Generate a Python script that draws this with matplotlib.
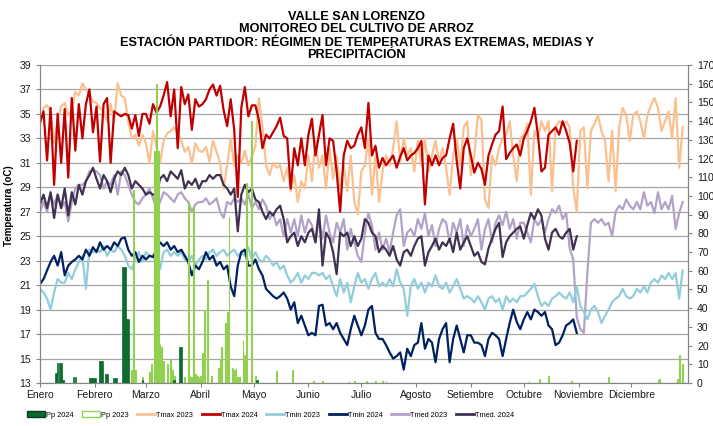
import numpy as np
import matplotlib
matplotlib.use("Agg")
from matplotlib import pyplot as plt
from matplotlib.patches import Patch
from matplotlib.lines import Line2D

plt.rcParams['font.family'] = ['Liberation Sans', 'DejaVu Sans']

# daily series sampled every 2 days (day 0 = 1 Jan), one row per month
tmax_2023 = [34.1, 35.5, 35.7, 35.2, 32.6, 34.6, 35.6, 35.9, 34.9, 35.3, 36.8, 36.5, 37.5, 37.0, 36.6, 36.0,
             35.9, 35.5, 35.2, 34.4, 35.8, 34.4, 37.5, 36.5, 36.3, 34.4, 33.0, 33.3, 32.4, 33.3,
             32.6, 31.0, 33.6, 32.3, 31.0, 32.8, 33.4, 33.6, 33.9, 33.5, 32.8, 31.9, 32.3, 31.0, 32.6, 32.0,
             31.9, 32.3, 31.1, 32.8, 31.9, 31.0, 28.9, 30.8, 33.0, 30.8, 31.6, 31.0, 32.0, 30.8, 31.5,
             32.4, 36.3, 34.0, 30.8, 30.0, 31.0, 30.6, 30.8, 29.5, 30.6, 28.7, 30.0, 27.8, 29.5, 28.9,
             31.6, 29.5, 32.8, 30.6, 31.6, 28.9, 32.2, 29.7, 31.6, 28.9, 30.8, 28.7, 31.6, 27.8, 26.8,
             30.3, 30.8, 33.0, 28.4, 31.6, 27.8, 30.3, 31.6, 30.8, 32.2, 34.4, 31.1, 33.0, 31.6, 32.2, 30.3,
             32.8, 30.8, 33.0, 30.3, 31.6, 32.8, 31.1, 32.2, 30.6, 28.4, 31.6, 33.0, 30.8, 33.9, 34.4,
             30.0, 31.6, 34.9, 34.5, 28.0, 27.3, 31.6, 30.8, 32.2, 33.0, 33.3, 34.4, 31.6, 29.5, 33.0,
             33.3, 34.2, 28.4, 33.6, 33.0, 34.4, 33.6, 34.4, 28.7, 33.9, 34.4, 34.2, 34.4, 33.9, 28.9, 27.0,
             33.6, 33.9, 28.9, 33.6, 34.2, 34.9, 33.6, 32.8, 29.5, 33.6, 28.7, 33.9, 35.5, 34.9, 32.8,
             34.9, 35.2, 34.4, 33.0, 34.9, 35.7, 36.3, 35.5, 33.6, 34.4, 35.2, 33.0, 36.3, 30.6, 33.9]

tmax_2024 = [34.3, 35.2, 31.2, 35.5, 29.2, 35.0, 31.0, 35.4, 29.8, 36.3, 32.0, 35.8, 33.0, 35.8, 37.0, 33.5,
             35.6, 31.1, 35.8, 36.3, 31.0, 35.2, 35.0, 34.8, 35.0, 34.9, 33.8, 34.9, 33.2, 35.0,
             35.0, 34.2, 35.8, 35.1, 35.6, 36.5, 37.6, 34.8, 37.0, 32.2, 37.2, 35.8, 36.6, 33.7, 36.2, 35.6,
             35.8, 36.2, 37.0, 37.4, 36.5, 37.3, 35.3, 34.0, 36.2, 33.7, 28.2, 35.5, 37.2, 34.8, 35.7,
             35.7, 34.5, 32.2, 33.3, 33.0, 33.5, 34.0, 34.7, 33.2, 33.0, 28.9, 32.2, 30.8, 33.0, 30.8,
             33.3, 34.6, 31.6, 33.3, 34.9, 30.8, 33.0, 32.8, 30.3, 27.0, 31.6, 32.8, 32.2, 32.4, 33.3,
             33.9, 32.2, 35.9, 31.6, 32.4, 30.6, 31.4, 30.8, 31.2, 31.6, 30.6, 31.5, 32.2, 31.2, 31.6, 31.8,
             32.2, 32.8, 27.6, 31.6, 30.8, 31.6, 30.8, 31.4, 31.6, 33.0, 34.2, 31.2, 28.9, 32.2, 33.0,
             31.6, 30.2, 31.0, 30.5, 29.2, 31.6, 32.5, 33.3, 33.6, 35.6, 31.3, 31.8, 32.2, 32.5, 31.6,
             33.0, 33.6, 34.4, 35.5, 33.3, 30.3, 30.6, 33.3, 33.6, 33.9, 33.3, 34.4, 33.6, 32.6, 30.3, 32.8]

tmin_2023 = [20.7, 20.4, 19.9, 19.0, 20.4, 21.5, 21.2, 21.2, 22.0, 21.5, 22.3, 22.9, 23.4, 20.7, 23.9, 23.7,
             23.9, 23.7, 24.2, 23.4, 23.9, 23.7, 24.2, 23.9, 23.4, 22.6, 22.3, 23.1, 23.7, 22.9,
             23.7, 23.4, 23.4, 22.6, 22.3, 23.7, 23.9, 23.4, 23.7, 23.4, 23.7, 23.1, 22.9, 23.4, 22.6, 23.1,
             23.4, 23.1, 23.7, 23.9, 23.4, 23.7, 23.9, 23.4, 23.7, 23.9, 23.4, 23.7, 23.4, 24.1, 23.1,
             23.7, 23.1, 22.9, 23.4, 23.1, 22.6, 22.9, 22.3, 22.6, 21.8, 21.2, 21.5, 22.0, 21.2, 21.8,
             21.5, 22.0, 22.0, 21.8, 22.0, 21.5, 21.8, 20.9, 20.1, 21.5, 20.4, 21.2, 19.6, 20.9, 22.0,
             21.2, 21.5, 20.7, 21.5, 22.0, 20.9, 21.2, 20.9, 21.5, 20.9, 22.3, 21.2, 20.7, 18.5, 20.9, 21.5,
             20.7, 21.2, 20.4, 21.2, 20.9, 21.8, 20.9, 20.7, 21.2, 20.4, 20.9, 21.5, 20.7, 19.9, 20.1,
             19.9, 19.6, 20.1, 19.6, 19.0, 19.9, 20.1, 19.6, 19.9, 19.0, 20.1, 19.6, 19.9, 19.6, 20.1,
             20.1, 20.4, 20.7, 21.1, 20.1, 19.3, 19.6, 19.3, 19.9, 20.1, 20.4, 20.1, 19.9, 20.4, 19.6, 20.9,
             19.3, 18.8, 18.2, 19.0, 19.3, 18.8, 17.9, 18.5, 19.0, 19.6, 19.9, 20.1, 20.7, 20.1, 19.9,
             20.1, 20.7, 20.4, 20.9, 20.4, 21.2, 21.5, 21.2, 21.8, 21.5, 22.0, 21.5, 22.0, 19.9, 22.2]

tmin_2024 = [21.1, 21.5, 22.2, 22.9, 23.4, 22.6, 23.7, 21.8, 22.6, 22.9, 23.1, 23.4, 23.1, 23.9, 23.4, 24.1,
             23.7, 24.5, 23.9, 24.2, 23.9, 24.5, 24.2, 24.8, 24.9, 23.9, 23.4, 23.7, 22.9, 23.4,
             23.1, 23.4, 23.3, 23.9, 24.5, 24.2, 24.5, 23.9, 24.2, 23.7, 23.9, 23.4, 22.9, 21.8, 22.6, 22.3,
             22.9, 23.7, 23.1, 23.4, 22.6, 22.9, 22.3, 22.6, 20.9, 20.1, 22.6, 23.7, 23.9, 22.6, 22.6,
             23.1, 22.3, 21.8, 20.7, 20.4, 20.1, 19.9, 20.1, 20.4, 19.9, 19.0, 19.6, 17.9, 18.5, 17.7,
             16.9, 17.1, 16.9, 19.3, 19.4, 17.7, 17.9, 17.4, 17.9, 17.1, 16.6, 16.1, 17.4, 18.5, 17.7,
             16.9, 17.7, 19.0, 19.3, 17.1, 16.6, 16.6, 16.1, 15.5, 15.0, 15.2, 15.5, 14.1, 15.8, 15.2, 16.1,
             16.3, 17.9, 15.8, 16.6, 16.3, 14.7, 16.6, 17.4, 17.9, 14.7, 16.6, 17.7, 16.6, 15.5, 16.9,
             16.9, 16.3, 16.3, 16.1, 15.2, 16.6, 17.1, 16.9, 16.6, 15.2, 16.6, 17.9, 19.0, 18.0, 17.4,
             18.2, 18.8, 18.2, 19.0, 18.8, 18.5, 18.8, 17.7, 17.4, 16.1, 16.3, 16.9, 17.7, 17.9, 18.2, 17.1]

tmed_2023 = [27.0, 27.8, 27.0, 28.4, 27.6, 28.4, 27.3, 27.8, 26.2, 27.8, 28.9, 29.2, 29.2, 29.5, 30.3, 30.4,
             30.3, 30.0, 28.9, 29.5, 29.2, 30.0, 28.4, 30.3, 30.0, 29.2, 28.4, 27.8, 27.6, 28.1,
             28.4, 28.9, 28.1, 27.3, 27.8, 28.6, 28.4, 28.1, 27.8, 28.4, 28.6, 28.1, 27.8, 27.0, 27.6, 27.8,
             27.8, 28.1, 27.6, 27.8, 28.1, 27.0, 26.5, 27.8, 27.6, 28.1, 27.8, 28.1, 27.6, 28.4, 27.3,
             27.8, 27.2, 28.0, 27.5, 26.4, 26.9, 25.9, 26.4, 25.0, 26.4, 25.3, 26.4, 25.0, 26.7, 25.3,
             26.4, 25.9, 24.5, 26.4, 24.8, 26.7, 25.3, 24.5, 26.1, 25.3, 26.4, 23.9, 25.6, 24.5, 23.4,
             22.9, 25.3, 26.9, 25.9, 23.9, 25.3, 23.9, 24.8, 23.7, 25.3, 26.7, 27.2, 24.2, 25.3, 25.6, 25.0,
             26.4, 25.6, 26.9, 25.0, 25.9, 24.2, 25.6, 26.4, 26.1, 24.5, 26.1, 25.3, 26.4, 24.2, 25.9,
             25.0, 25.6, 26.4, 23.9, 25.6, 26.4, 24.5, 26.1, 26.7, 25.9, 27.0, 25.6, 26.4, 24.8, 26.1,
             26.1, 25.3, 24.5, 26.4, 25.9, 26.4, 25.3, 26.4, 27.2, 26.9, 27.5, 26.4, 26.9, 24.0, 23.1, 18.4,
             17.4, 17.1, 22.0, 26.1, 26.4, 26.1, 26.4, 25.9, 26.1, 25.0, 27.0, 27.5, 27.2, 28.0, 27.5,
             27.2, 27.8, 27.2, 28.6, 27.5, 27.8, 26.9, 28.6, 27.2, 27.8, 27.2, 28.3, 25.6, 26.9, 27.8]

tmed_2024 = [27.6, 28.4, 27.3, 28.6, 26.5, 28.4, 27.3, 28.9, 26.7, 28.6, 27.6, 29.2, 28.4, 29.5, 30.0, 30.6,
             29.7, 28.9, 30.0, 29.5, 28.6, 29.7, 30.3, 30.0, 30.6, 30.0, 28.9, 29.5, 29.2, 28.9,
             28.4, 28.6, 28.4, 28.4, 29.7, 30.0, 29.5, 30.3, 30.0, 29.7, 30.4, 28.9, 29.5, 29.2, 29.7, 28.9,
             29.5, 29.5, 30.0, 29.7, 30.0, 30.0, 29.2, 28.9, 28.4, 28.9, 25.4, 28.4, 29.2, 28.6, 28.9,
             28.0, 27.8, 27.0, 26.4, 27.0, 26.7, 27.2, 27.5, 26.4, 24.5, 25.0, 25.3, 24.2, 25.0, 24.5,
             25.3, 25.6, 24.5, 27.2, 22.6, 25.3, 24.8, 23.7, 21.9, 25.3, 25.0, 25.3, 24.2, 25.0, 24.2,
             24.8, 26.4, 26.1, 25.3, 25.0, 23.7, 24.2, 23.9, 23.4, 24.2, 23.1, 22.6, 23.7, 23.9, 23.4, 24.2,
             24.8, 25.0, 22.6, 23.7, 24.2, 24.8, 23.9, 24.5, 24.2, 24.8, 23.7, 25.3, 23.9, 24.5, 25.0,
             24.2, 23.4, 23.7, 22.9, 22.7, 24.0, 24.8, 25.6, 26.1, 23.3, 24.5, 25.0, 25.3, 25.6, 25.8,
             24.8, 25.9, 26.9, 26.4, 27.2, 26.7, 24.8, 23.9, 25.3, 25.6, 25.0, 24.8, 25.3, 25.6, 23.9, 25.0]

# precipitation (mm): day of year and amount
pp24_day = [9, 10, 11, 12, 13, 19, 20, 28, 29, 30, 31, 34, 35, 37, 38, 42, 43, 47, 48, 49, 50, 58, 76, 79, 80, 123]
pp24_mm = [5.3, 10.7, 10.7, 10.7, 1.5, 3.2, 3.2, 2.5, 2.5, 2.5, 2.5, 11.8, 11.8, 4.8, 4.8, 2.7, 2.7,
           62, 62, 34, 34, 1.5, 1.5, 19, 19, 1.5]

pp23_day = [52, 53, 54, 58, 62, 63, 65, 66, 67, 68, 69, 70, 72, 74, 75, 76, 82, 84, 85, 86, 87, 88, 89, 90, 91,
            92, 93, 95, 97, 101, 102, 103, 105, 106, 107, 109, 110, 111, 112, 113, 115, 116, 117, 120, 122,
            134, 143, 155, 160, 175, 178, 185, 190, 194, 196, 277, 283, 288, 301, 322, 350, 351, 361, 362, 364]
pp23_mm = [7, 103, 7, 3, 6, 10, 124, 160, 124, 21, 19, 12, 10, 13, 7, 4, 3, 96, 4, 3, 94, 5, 4, 3, 4,
           16, 39, 55, 4, 8, 13, 19, 32, 38, 89, 8, 7, 8, 3, 3, 23, 15, 107, 140, 4,
           6.5, 7, 1, 1, 1, 1, 1, 1, 1, 1, 1, 2, 3.5, 1, 3, 2, 2, 2, 15, 10]

meses = ['Enero', 'Febrero', 'Marzo', 'Abril', 'Mayo', 'Junio', 'Julio', 'Agosto',
         'Setiembre', 'Octubre', 'Noviembre', 'Diciembre']
inicio_mes = [0, 31, 60, 91, 121, 152, 182, 213, 244, 274, 305, 335]

dias23 = np.arange(len(tmax_2023)) * 2
dias24 = np.arange(len(tmax_2024)) * 2

fig = plt.figure(figsize=(7.13, 4.26), dpi=100)
ax = fig.add_axes([40 / 713, 43 / 426, 648 / 713, 318 / 426])
ax2 = ax.twinx()

# temperature lines (2023 first, 2024 on top)
lw = 1.6
ax.plot(dias23, tmax_2023, color='#FAC090', lw=lw, zorder=3)
ax.plot(dias23, tmed_2023, color='#B3A2C7', lw=lw, zorder=3)
ax.plot(dias23, tmin_2023, color='#92CDDC', lw=lw, zorder=3)
ax.plot(dias24, tmax_2024, color='#C00000', lw=lw, zorder=4)
ax.plot(dias24, tmed_2024, color='#403151', lw=lw, zorder=4)
ax.plot(dias24, tmin_2024, color='#002060', lw=lw, zorder=4)

# precipitation bars on right axis
ax2.bar(pp23_day, pp23_mm, width=0.45, facecolor='none', edgecolor='#92D050', linewidth=0.8)
ax2.bar(pp24_day, pp24_mm, width=0.9, facecolor='#0B6B2E', edgecolor='#0B6B2E', linewidth=0.5)

ax.set_xlim(0, 367)
ax.set_ylim(13, 39)
ax.set_yticks(range(13, 40, 2))
ax2.set_ylim(0, 170)
ax2.set_yticks(range(0, 171, 10))

ax.yaxis.grid(True, color='#A6A6A6', lw=0.9)
ax.set_axisbelow(True)

ax.set_xticks(inicio_mes)
ax.set_xticklabels(meses)

for a in (ax, ax2):
    for s in a.spines.values():
        s.set_color('#868686')
    a.spines['top'].set_visible(False)
ax.tick_params(axis='both', labelsize=7.5, colors='#868686', labelcolor='#1a1a1a', length=3)
ax.tick_params(axis='x', pad=2)
ax2.tick_params(axis='y', labelsize=7.5, colors='#868686', labelcolor='#1a1a1a', length=3)

fig.text(9 / 713, 1 - 206 / 426, 'Temperatura (oC)', rotation=90, fontsize=7, fontweight='bold',
         ha='center', va='center')

fig.text(0.5, 1 - 36 / 426,
         'VALLE SAN LORENZO\nMONITOREO DEL CULTIVO DE ARROZ\n'
         'ESTACIÓN PARTIDOR: RÉGIMEN DE TEMPERATURAS EXTREMAS, MEDIAS Y\nPRECIPITACIÓN',
         ha='center', va='center', fontsize=9.2, fontweight='bold', linespacing=1.02)

handles = [Patch(facecolor='#0B6B2E', edgecolor='#06401B'),
           Patch(facecolor='white', edgecolor='#92D050'),
           Line2D([], [], color='#FAC090', lw=2),
           Line2D([], [], color='#C00000', lw=2),
           Line2D([], [], color='#92CDDC', lw=2),
           Line2D([], [], color='#002060', lw=2),
           Line2D([], [], color='#B3A2C7', lw=2),
           Line2D([], [], color='#403151', lw=2)]
labels = ['Pp 2024', 'Pp 2023', 'Tmax 2023', 'Tmax 2024', 'Tmin 2023', 'Tmin 2024', 'Tmed 2023', 'Tmed. 2024']
fig.legend(handles, labels, loc='center left', bbox_to_anchor=(27 / 713, 1 - 415 / 426), ncol=8,
           frameon=False, fontsize=5.3, handlelength=2.4, handleheight=0.9, handletextpad=0.15,
           columnspacing=1.2, borderpad=0, borderaxespad=0)

fig.savefig('out.png', dpi=100)
